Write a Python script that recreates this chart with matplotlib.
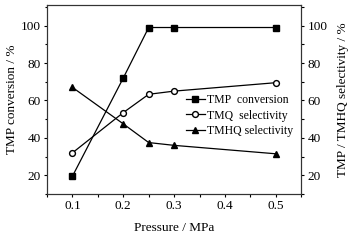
import matplotlib
matplotlib.use("Agg")
import matplotlib.pyplot as plt
from matplotlib.ticker import MultipleLocator

plt.rcParams['font.family'] = ['Liberation Serif', 'DejaVu Serif']

pressure = [0.1, 0.2, 0.25, 0.3, 0.5]
tmp_conversion = [19.5, 72, 99, 99, 99]
tmq_selectivity = [32, 53.5, 63.3, 65, 69.5]
tmhq_selectivity = [67, 47.5, 37.5, 36, 31.5]

fig = plt.figure(figsize=(3.6, 2.41), dpi=100)
ax = fig.add_axes([0.1306, 0.195, 0.706, 0.784])
ax.plot(pressure, tmp_conversion, '-s', color='black', lw=0.9, ms=4.2, mfc='black', label='TMP  conversion')
ax.plot(pressure, tmq_selectivity, '-o', color='black', lw=0.9, ms=4.2, mfc='white', label='TMQ  selectivity')
ax.plot(pressure, tmhq_selectivity, '-^', color='black', lw=0.9, ms=4.8, mfc='black', label='TMHQ selectivity')
ax.set_xlim(0.05, 0.55)
ax.set_ylim(10, 111)
ax.set_xticks([0.1, 0.2, 0.3, 0.4, 0.5])
ax.set_xticklabels(['0.1', '0.2', '0.3', '0.4', '0.5'])
ax.xaxis.set_minor_locator(MultipleLocator(0.05))
ax.set_yticks([20, 40, 60, 80, 100])
ax.yaxis.set_minor_locator(MultipleLocator(10))
ax.tick_params(which='major', length=2.5, width=0.8, labelsize=9.5, direction='out', pad=2)
ax.tick_params(which='minor', length=1.8, width=0.8, direction='out')
ax.set_xlabel('Pressure / MPa', fontsize=9.5, labelpad=7)
ax.set_ylabel('TMP conversion / %', fontsize=9.5, labelpad=2)

ax2 = ax.twinx()
ax2.set_ylim(10, 111)
ax2.set_yticks([20, 40, 60, 80, 100])
ax2.yaxis.set_minor_locator(MultipleLocator(10))
ax2.tick_params(which='major', length=2.5, width=0.8, labelsize=9.5, direction='out', pad=2)
ax2.tick_params(which='minor', length=1.8, width=0.8, direction='out')
ax2.set_ylabel('TMP / TMHQ selectivity / %', fontsize=9.5, labelpad=7)

for a in (ax, ax2):
    for s in a.spines.values():
        s.set_linewidth(0.8)
        s.set_color('#333333')

leg = ax.legend(loc='upper left', bbox_to_anchor=(186/360, 1-94/241), bbox_transform=fig.transFigure,
                frameon=False, fontsize=8.5, handlelength=1.6, handletextpad=0.2, labelspacing=0.3,
                borderpad=0, borderaxespad=0)

fig.savefig('out.png', dpi=100)
